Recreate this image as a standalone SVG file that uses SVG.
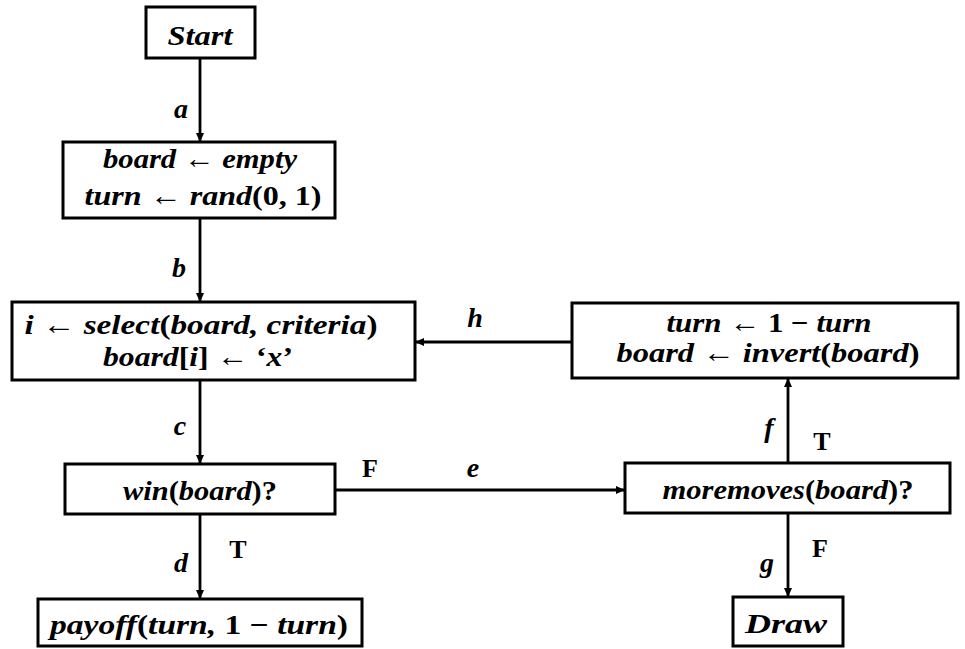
<svg xmlns="http://www.w3.org/2000/svg" width="965" height="649" viewBox="0 0 965 649">
<defs>
<marker id="ah" markerUnits="userSpaceOnUse" markerWidth="10" markerHeight="9" refX="9" refY="4" orient="auto">
<path d="M0,0 L9,4 L0,8 z" fill="#000"/>
</marker>
<style>
.box{fill:#fff;stroke:#000;stroke-width:3}
.t{font-family:"Liberation Serif","DejaVu Serif",serif;font-weight:bold;font-style:italic;font-size:28px;fill:#000;text-anchor:middle}
.r{font-style:normal}
.lab{font-family:"Liberation Serif","DejaVu Serif",serif;font-weight:bold;font-style:italic;font-size:28px;fill:#000;text-anchor:middle}
.tf{font-family:"Liberation Serif","DejaVu Serif",serif;font-weight:bold;font-size:26px;fill:#000;text-anchor:middle}
.c{stroke:#000;stroke-width:2.8;fill:none;marker-end:url(#ah)}
</style>
</defs>
<rect width="965" height="649" fill="#fff"/>
<g id="connectors">
<path class="c" d="M200 58 V142"/>
<path class="c" d="M200 218 V302"/>
<path class="c" d="M200 380 V464"/>
<path class="c" d="M200 514 V599"/>
<path class="c" d="M335 490 H625"/>
<path class="c" d="M788 463 V378"/>
<path class="c" d="M788 513 V597"/>
<path class="c" d="M572 342 H415"/>
<text class="lab" x="181" y="118">a</text>
<text class="lab" x="179" y="277">b</text>
<text class="lab" x="180" y="435">c</text>
<text class="lab" x="181" y="572">d</text>
<text class="tf" x="238" y="558">T</text>
<text class="tf" x="370" y="477">F</text>
<text class="lab" x="473" y="477">e</text>
<text class="lab" x="769" y="437">f</text>
<text class="tf" x="822" y="450">T</text>
<text class="lab" x="767" y="572">g</text>
<text class="tf" x="820" y="557">F</text>
<text class="lab" x="475" y="327">h</text>
</g>
<g id="start">
<rect class="box" x="146" y="7" width="109" height="51"/>
<text class="t" x="200" y="45" textLength="65" lengthAdjust="spacingAndGlyphs">Start</text>
</g>
<g id="init">
<rect class="box" x="63" y="142" width="272" height="76"/>
<text class="t" x="200" y="168" textLength="194" lengthAdjust="spacingAndGlyphs">board <tspan class="r">←</tspan> empty</text>
<text class="t" x="203" y="205" textLength="237" lengthAdjust="spacingAndGlyphs">turn <tspan class="r">←</tspan> rand<tspan class="r">(0, 1)</tspan></text>
</g>
<g id="select">
<rect class="box" x="12" y="302" width="403" height="78"/>
<text class="t" x="201" y="334" textLength="353" lengthAdjust="spacingAndGlyphs">i <tspan class="r">←</tspan> select<tspan class="r">(</tspan>board, criteria<tspan class="r">)</tspan></text>
<text class="t" x="198" y="366" textLength="190" lengthAdjust="spacingAndGlyphs">board<tspan class="r">[</tspan>i<tspan class="r">] ← ‘</tspan>x<tspan class="r">’</tspan></text>
</g>
<g id="swap">
<rect class="box" x="572" y="303" width="386" height="75"/>
<text class="t" x="769" y="332" textLength="205" lengthAdjust="spacingAndGlyphs">turn <tspan class="r">← 1 − </tspan>turn</text>
<text class="t" x="768" y="362" textLength="303" lengthAdjust="spacingAndGlyphs">board <tspan class="r">←</tspan> invert<tspan class="r">(</tspan>board<tspan class="r">)</tspan></text>
</g>
<g id="win">
<rect class="box" x="65" y="464" width="270" height="50"/>
<text class="t" x="200" y="500" textLength="154" lengthAdjust="spacingAndGlyphs">win<tspan class="r">(</tspan>board<tspan class="r">)?</tspan></text>
</g>
<g id="moremoves">
<rect class="box" x="625" y="463" width="325" height="50"/>
<text class="t" x="788" y="499" textLength="251" lengthAdjust="spacingAndGlyphs">moremoves<tspan class="r">(</tspan>board<tspan class="r">)?</tspan></text>
</g>
<g id="payoff">
<rect class="box" x="38" y="599" width="324" height="47"/>
<text class="t" x="199" y="634" textLength="298" lengthAdjust="spacingAndGlyphs">payoff<tspan class="r">(</tspan>turn, <tspan class="r">1 − </tspan>turn<tspan class="r">)</tspan></text>
</g>
<g id="draw">
<rect class="box" x="733" y="597" width="110" height="49"/>
<text class="t" x="786" y="633" textLength="82" lengthAdjust="spacingAndGlyphs">Draw</text>
</g>
</svg>
